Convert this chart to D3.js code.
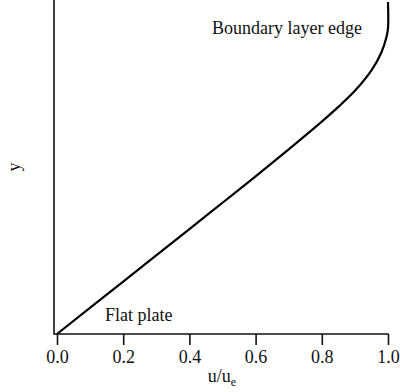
<!DOCTYPE html>
<html>
<head>
<meta charset="utf-8">
<script src="https://cdn.jsdelivr.net/npm/d3@7"></script>
<style>
  body { margin: 0; background: #fff; }
  text { font-family: "Liberation Serif", "Times New Roman", serif; fill: #111; }
</style>
</head>
<body>
<svg width="400" height="392"></svg>
<script>
// velocity profile: u/ue vs y/delta
var uValues = [0, 0.2, 0.4, 0.5, 0.6, 0.7, 0.8, 0.85, 0.9, 0.95, 0.98, 0.995, 1.0, 1.0];
var yValues = [0, 0.157, 0.314, 0.393, 0.472, 0.553, 0.636, 0.680, 0.728, 0.789, 0.843, 0.888, 0.915, 0.994];
var xTicks = [0, 0.2, 0.4, 0.6, 0.8, 1.0];

var svg = d3.select('svg');

var xScale = d3.scaleLinear()
    .domain([0, 1])
    .range([57, 388]);

var yScale = d3.scaleLinear()
    .domain([0, 1])
    .range([334, 0]);

var profile = uValues.map((u, i) => ({u: u, y: yValues[i]}));

// x axis
var xAxis = d3.axisBottom(xScale)
    .tickValues(xTicks)
    .tickFormat(d3.format('.1f'))
    .tickSize(11)
    .tickPadding(5);

var gx = svg.append('g')
    .attr('transform', 'translate(0, 334)')
    .call(xAxis);
gx.select('.domain').remove();
gx.append('line')
    .attr('x1', 54).attr('x2', 388.5)
    .attr('y1', 0).attr('y2', 0)
    .attr('stroke', '#111')
    .attr('stroke-width', 1.6);
gx.selectAll('.tick line').attr('stroke', '#111').attr('stroke-width', 1.6);
gx.selectAll('.tick text')
    .style('font-size', '18px')
    .style('font-family', '"Liberation Serif", serif')
    .attr('fill', '#111');

// y axis: plain line, no ticks
svg.append('line')
    .attr('x1', 54).attr('x2', 54)
    .attr('y1', 0).attr('y2', 334.8)
    .attr('stroke', '#111')
    .attr('stroke-width', 1.6);

// profile curve
var line = d3.line()
    .x(d => xScale(d.u))
    .y(d => yScale(d.y))
    .curve(d3.curveCatmullRom.alpha(0.5));

svg.append('path')
    .datum(profile)
    .attr('d', line)
    .attr('fill', 'none')
    .attr('stroke', '#000')
    .attr('stroke-width', 2.2);

// labels
var xl = svg.append('text')
    .attr('x', 222)
    .attr('y', 382)
    .attr('text-anchor', 'middle')
    .style('font-size', '18px');
xl.append('tspan').text('u/u');
xl.append('tspan').attr('dy', 4).style('font-size', '12px').text('e');

svg.append('text')
    .attr('transform', 'translate(20, 167) rotate(-90)')
    .attr('text-anchor', 'middle')
    .style('font-size', '18px')
    .text('y');

svg.append('text')
    .attr('x', 212)
    .attr('y', 34)
    .style('font-size', '18px')
    .text('Boundary layer edge');

svg.append('text')
    .attr('x', 105)
    .attr('y', 321)
    .style('font-size', '18px')
    .text('Flat plate');
</script>
</body>
</html>
